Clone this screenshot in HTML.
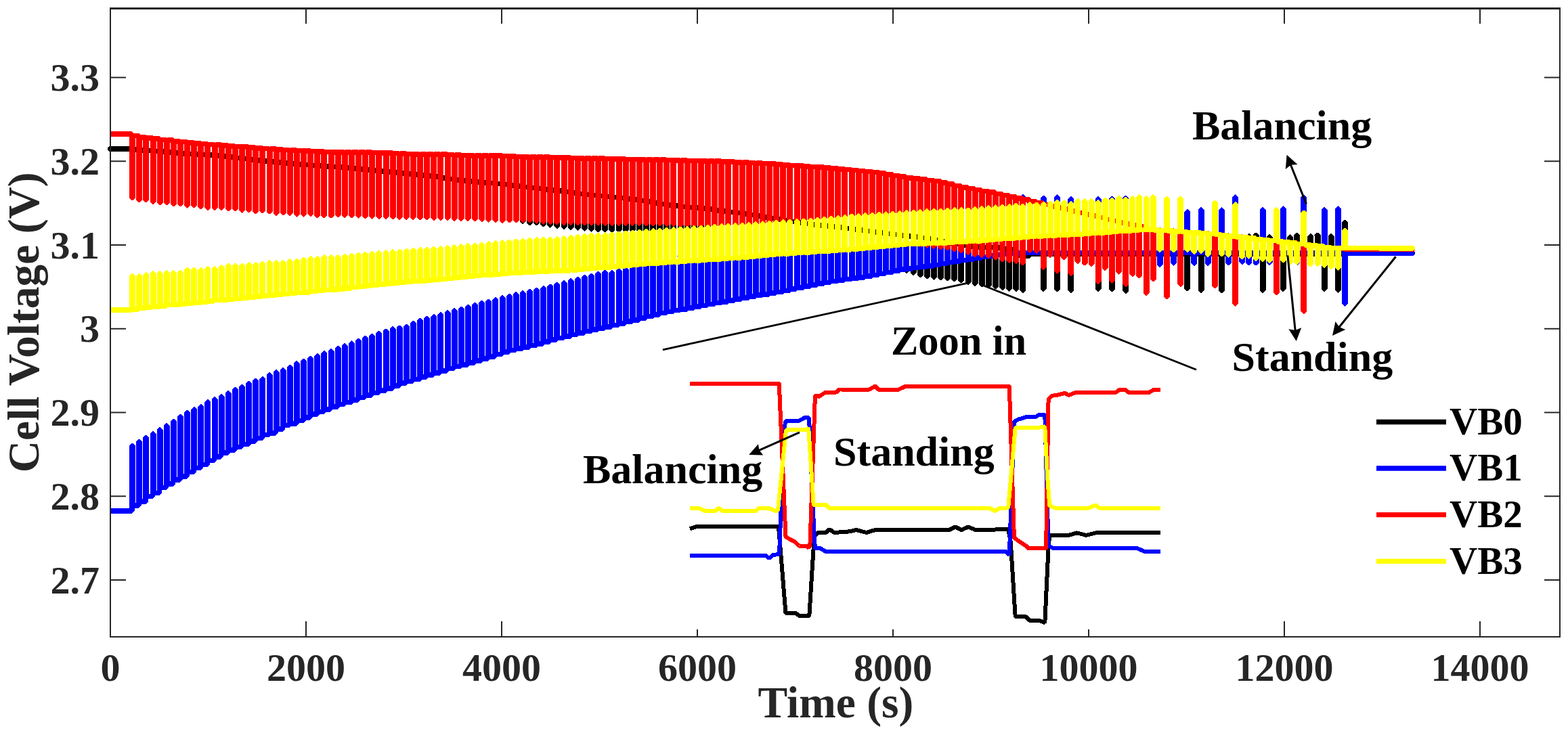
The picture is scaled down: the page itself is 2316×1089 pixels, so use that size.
<!DOCTYPE html><html><head><meta charset="utf-8"><title>Cell Voltage</title><style>html,body{margin:0;padding:0;background:#fff;overflow:hidden}svg{display:block}text{font-family:"Liberation Serif","Times New Roman",serif;font-weight:bold}</style></head><body>
<svg width="2316" height="1089" viewBox="0 0 2316 1089">
<rect width="2316" height="1089" fill="#fff"/>
<defs><clipPath id="ax"><rect x="163.0" y="12.0" width="2141.0" height="929.0"/></clipPath></defs>
<g fill="none" stroke-width="7.6" stroke-linejoin="bevel" stroke-linecap="round" shape-rendering="crispEdges">
<path d="M163.0 220.0 L194.9 220.0 L194.9 289.5 L196.3 289.5 L196.3 220.9 L205.0 220.9 L205.0 292.5 L206.4 292.5 L206.4 221.7 L215.1 221.7 L215.1 292.5 L216.5 292.5 L216.5 222.5 L225.3 222.5 L225.3 294.8 L226.7 294.8 L226.7 223.3 L235.4 223.3 L235.4 296.6 L236.8 296.6 L236.8 224.1 L245.5 224.1 L245.5 296.5 L246.9 296.5 L246.9 225.1 L255.6 225.1 L255.6 298.4 L257.0 298.4 L257.0 226.2 L265.7 226.2 L265.7 298.5 L267.1 298.5 L267.1 226.9 L275.8 226.9 L275.8 300.8 L277.2 300.8 L277.2 227.5 L286.0 227.5 L286.0 300.5 L287.4 300.5 L287.4 227.9 L296.1 227.9 L296.1 302.6 L297.5 302.6 L297.5 228.3 L306.2 228.3 L306.2 303.8 L307.6 303.8 L307.6 229.0 L316.3 229.0 L316.3 303.8 L317.7 303.8 L317.7 230.0 L326.4 230.0 L326.4 304.0 L327.8 304.0 L327.8 231.0 L336.6 231.0 L336.6 305.6 L338.0 305.6 L338.0 232.2 L346.7 232.2 L346.7 305.5 L348.1 305.5 L348.1 233.4 L356.8 233.4 L356.8 307.8 L358.2 307.8 L358.2 234.6 L366.9 234.6 L366.9 307.2 L368.3 307.2 L368.3 235.9 L377.0 235.9 L377.0 309.6 L378.4 309.6 L378.4 237.1 L387.1 237.1 L387.1 308.6 L388.5 308.6 L388.5 238.2 L397.3 238.2 L397.3 309.6 L398.7 309.6 L398.7 239.1 L407.4 239.1 L407.4 312.0 L408.8 312.0 L408.8 240.1 L417.5 240.1 L417.5 311.4 L418.9 311.4 L418.9 241.0 L427.6 241.0 L427.6 312.1 L429.0 312.1 L429.0 242.0 L437.7 242.0 L437.7 313.8 L439.1 313.8 L439.1 242.8 L447.9 242.8 L447.9 313.8 L449.2 313.8 L449.2 243.6 L458.0 243.6 L458.0 313.2 L459.4 313.2 L459.4 244.4 L468.1 244.4 L468.1 315.5 L469.5 315.5 L469.5 245.1 L478.2 245.1 L478.2 315.6 L479.6 315.6 L479.6 245.9 L488.3 245.9 L488.3 315.6 L489.7 315.6 L489.7 246.4 L498.4 246.4 L498.4 314.6 L499.8 314.6 L499.8 247.0 L508.6 247.0 L508.6 314.9 L510.0 314.9 L510.0 248.0 L518.7 248.0 L518.7 315.4 L520.1 315.4 L520.1 249.0 L528.8 249.0 L528.8 315.9 L530.2 315.9 L530.2 250.1 L538.9 250.1 L538.9 316.4 L540.3 316.4 L540.3 251.1 L549.0 251.1 L549.0 316.7 L550.4 316.7 L550.4 252.1 L559.1 252.1 L559.1 317.0 L560.5 317.0 L560.5 253.0 L569.3 253.0 L569.3 317.3 L570.7 317.3 L570.7 254.0 L579.4 254.0 L579.4 317.6 L580.8 317.6 L580.8 254.9 L589.5 254.9 L589.5 317.8 L590.9 317.8 L590.9 255.9 L599.6 255.9 L599.6 317.9 L601.0 317.9 L601.0 256.9 L609.7 256.9 L609.7 318.1 L611.1 318.1 L611.1 257.9 L619.9 257.9 L619.9 318.2 L621.3 318.2 L621.3 258.9 L630.0 258.9 L630.0 318.5 L631.4 318.5 L631.4 260.0 L640.1 260.0 L640.1 318.8 L641.5 318.8 L641.5 261.0 L650.2 261.0 L650.2 319.1 L651.6 319.1 L651.6 263.0 L660.3 263.0 L660.3 319.4 L661.7 319.4 L661.7 264.6 L670.4 264.6 L670.4 319.7 L671.8 319.7 L671.8 265.7 L680.6 265.7 L680.6 319.9 L682.0 319.9 L682.0 266.8 L690.7 266.8 L690.7 320.1 L692.1 320.1 L692.1 267.8 L700.8 267.8 L700.8 320.4 L702.2 320.4 L702.2 268.8 L710.9 268.8 L710.9 321.0 L712.3 321.0 L712.3 269.7 L721.0 269.7 L721.0 321.7 L722.4 321.7 L722.4 270.6 L731.2 270.6 L731.2 322.3 L732.6 322.3 L732.6 271.5 L741.3 271.5 L741.3 322.8 L742.7 322.8 L742.7 272.6 L751.4 272.6 L751.4 322.6 L752.8 322.6 L752.8 273.9 L761.5 273.9 L761.5 325.0 L762.9 325.0 L762.9 275.1 L771.6 275.1 L771.6 327.2 L773.0 327.2 L773.0 276.3 L781.7 276.3 L781.7 329.5 L783.1 329.5 L783.1 277.4 L791.9 277.4 L791.9 329.5 L793.3 329.5 L793.3 278.5 L802.0 278.5 L802.0 331.4 L803.4 331.4 L803.4 279.7 L812.1 279.7 L812.1 332.7 L813.5 332.7 L813.5 280.9 L822.2 280.9 L822.2 334.3 L823.6 334.3 L823.6 282.2 L832.3 282.2 L832.3 335.2 L833.7 335.2 L833.7 283.6 L842.5 283.6 L842.5 336.0 L843.9 336.0 L843.9 285.0 L852.6 285.0 L852.6 336.8 L854.0 336.8 L854.0 286.3 L862.7 286.3 L862.7 337.8 L864.1 337.8 L864.1 287.4 L872.8 287.4 L872.8 338.7 L874.2 338.7 L874.2 288.5 L882.9 288.5 L882.9 339.3 L884.3 339.3 L884.3 289.6 L893.0 289.6 L893.0 339.7 L894.4 339.7 L894.4 290.5 L903.2 290.5 L903.2 339.7 L904.6 339.7 L904.6 291.5 L913.3 291.5 L913.3 339.7 L914.7 339.7 L914.7 292.6 L923.4 292.6 L923.4 340.0 L924.8 340.0 L924.8 293.8 L933.5 293.8 L933.5 340.3 L934.9 340.3 L934.9 295.0 L943.6 295.0 L943.6 340.8 L945.0 340.8 L945.0 296.4 L953.8 296.4 L953.8 341.6 L955.2 341.6 L955.2 298.1 L963.9 298.1 L963.9 342.3 L965.3 342.3 L965.3 299.8 L974.0 299.8 L974.0 343.1 L975.4 343.1 L975.4 301.3 L984.1 301.3 L984.1 343.9 L985.5 343.9 L985.5 302.7 L994.2 302.7 L994.2 344.6 L995.6 344.6 L995.6 304.0 L1004.3 304.0 L1004.3 345.5 L1005.7 345.5 L1005.7 305.4 L1014.5 305.4 L1014.5 346.5 L1015.9 346.5 L1015.9 306.4 L1024.6 306.4 L1024.6 347.5 L1026.0 347.5 L1026.0 307.2 L1034.7 307.2 L1034.7 348.5 L1036.1 348.5 L1036.1 308.0 L1044.8 308.0 L1044.8 349.6 L1046.2 349.6 L1046.2 309.2 L1054.9 309.2 L1054.9 350.6 L1056.3 350.6 L1056.3 310.7 L1065.0 310.7 L1065.0 351.6 L1066.4 351.6 L1066.4 312.1 L1075.2 312.1 L1075.2 352.6 L1076.6 352.6 L1076.6 313.3 L1085.3 313.3 L1085.3 353.6 L1086.7 353.6 L1086.7 314.6 L1095.4 314.6 L1095.4 354.6 L1096.8 354.6 L1096.8 315.8 L1105.5 315.8 L1105.5 355.8 L1106.9 355.8 L1106.9 317.3 L1115.6 317.3 L1115.6 357.1 L1117.0 357.1 L1117.0 318.9 L1125.8 318.9 L1125.8 358.4 L1127.2 358.4 L1127.2 320.7 L1135.9 320.7 L1135.9 359.8 L1137.3 359.8 L1137.3 322.5 L1146.0 322.5 L1146.0 361.1 L1147.4 361.1 L1147.4 324.0 L1156.1 324.0 L1156.1 362.4 L1157.5 362.4 L1157.5 325.6 L1166.2 325.6 L1166.2 363.7 L1167.6 363.7 L1167.6 327.3 L1176.3 327.3 L1176.3 365.0 L1177.7 365.0 L1177.7 328.8 L1186.5 328.8 L1186.5 366.3 L1187.9 366.3 L1187.9 330.3 L1196.6 330.3 L1196.6 367.6 L1198.0 367.6 L1198.0 331.8 L1206.7 331.8 L1206.7 369.6 L1208.1 369.6 L1208.1 333.1 L1216.8 333.1 L1216.8 371.9 L1218.2 371.9 L1218.2 334.1 L1226.9 334.1 L1226.9 374.1 L1228.3 374.1 L1228.3 335.1 L1237.1 335.1 L1237.1 376.3 L1238.5 376.3 L1238.5 336.1 L1247.2 336.1 L1247.2 378.5 L1248.6 378.5 L1248.6 337.3 L1257.3 337.3 L1257.3 380.8 L1258.7 380.8 L1258.7 338.7 L1267.4 338.7 L1267.4 383.0 L1268.8 383.0 L1268.8 340.0 L1277.5 340.0 L1277.5 385.2 L1278.9 385.2 L1278.9 341.4 L1287.6 341.4 L1287.6 387.4 L1289.0 387.4 L1289.0 342.7 L1297.8 342.7 L1297.8 389.7 L1299.2 389.7 L1299.2 344.1 L1307.9 344.1 L1307.9 392.1 L1309.3 392.1 L1309.3 345.4 L1318.0 345.4 L1318.0 394.7 L1319.4 394.7 L1319.4 346.6 L1328.1 346.6 L1328.1 397.2 L1329.5 397.2 L1329.5 347.8 L1338.2 347.8 L1338.2 399.7 L1339.6 399.7 L1339.6 349.0 L1348.4 349.0 L1348.4 403.3 L1349.8 403.3 L1349.8 350.2 L1358.5 350.2 L1358.5 406.4 L1359.9 406.4 L1359.9 351.4 L1368.6 351.4 L1368.6 408.5 L1370.0 408.5 L1370.0 353.0 L1378.7 353.0 L1378.7 409.9 L1380.1 409.9 L1380.1 355.0 L1388.8 355.0 L1388.8 410.4 L1390.2 410.4 L1390.2 356.9 L1398.9 356.9 L1398.9 411.2 L1400.3 411.2 L1400.3 358.7 L1409.1 358.7 L1409.1 412.5 L1410.5 412.5 L1410.5 360.5 L1419.2 360.5 L1419.2 414.6 L1420.6 414.6 L1420.6 362.3 L1429.3 362.3 L1429.3 417.4 L1430.7 417.4 L1430.7 364.1 L1439.4 364.1 L1439.4 419.4 L1440.8 419.4 L1440.8 365.1 L1449.5 365.1 L1449.5 420.5 L1450.9 420.5 L1450.9 365.3 L1459.6 365.3 L1459.6 421.8 L1461.0 421.8 L1461.0 365.4 L1469.8 365.4 L1469.8 423.3 L1471.2 423.3 L1471.2 366.2 L1479.9 366.2 L1479.9 425.0 L1481.3 425.0 L1481.3 367.5 L1490.0 367.5 L1490.0 426.8 L1491.4 426.8 L1491.4 368.8 L1500.1 368.8 L1500.1 427.2 L1501.5 427.2 L1501.5 376.7 L1510.2 376.7 L1510.2 429.2 L1511.6 429.2 L1511.6 377.7 L1521.1 377.7 L1521.1 375.5 L1531.2 375.5 L1540.6 375.5 L1540.6 427.2 L1542.0 427.2 L1542.0 375.5 L1551.4 375.5 L1560.8 375.5 L1560.8 427.2 L1562.2 427.2 L1562.2 375.5 L1571.6 375.5 L1581.1 375.5 L1581.1 429.2 L1582.5 429.2 L1582.5 375.5 L1591.9 375.5 L1602.0 375.5 L1612.1 375.5 L1621.5 375.5 L1621.5 427.2 L1622.9 427.2 L1622.9 375.5 L1632.4 375.5 L1641.8 375.5 L1641.8 427.4 L1643.2 427.4 L1643.2 375.5 L1652.6 375.5 L1662.0 375.5 L1662.0 429.9 L1663.4 429.9 L1663.4 375.5 L1672.8 375.5 L1682.9 375.5 L1693.1 375.5 L1703.2 375.5 L1713.3 375.5 L1723.4 375.5 L1733.5 375.5 L1743.7 375.5 L1753.1 375.5 L1753.1 426.6 L1754.5 426.6 L1754.5 375.5 L1763.9 375.5 L1773.3 375.5 L1773.3 429.2 L1774.7 429.2 L1774.7 375.5 L1784.1 375.5 L1794.2 375.5 L1803.7 375.5 L1803.7 429.2 L1805.1 429.2 L1805.1 375.5 L1814.5 375.5 L1824.6 375.5 L1834.7 375.5 L1844.1 375.5 L1844.1 349.1 L1845.5 349.1 L1845.5 375.5 L1854.3 375.5 L1854.3 347.4 L1855.7 347.4 L1855.7 375.5 L1864.4 375.5 L1864.4 429.2 L1865.8 429.2 L1865.8 375.5 L1874.5 375.5 L1874.5 349.8 L1875.9 349.8 L1875.9 375.5 L1885.3 375.5 L1894.7 375.5 L1894.7 427.1 L1896.1 427.1 L1896.1 375.5 L1904.8 375.5 L1904.8 350.1 L1906.2 350.1 L1906.2 375.5 L1915.0 375.5 L1915.0 347.5 L1916.4 347.5 L1916.4 375.5 L1925.8 375.5 L1935.2 375.5 L1935.2 349.2 L1936.6 349.2 L1936.6 375.5 L1945.3 375.5 L1945.3 347.5 L1946.7 347.5 L1946.7 375.5 L1955.4 375.5 L1955.4 427.1 L1956.8 427.1 L1956.8 375.5 L1965.5 375.5 L1965.5 349.2 L1967.0 349.2 L1967.0 375.5 L1975.7 375.5 L1975.7 428.8 L1977.1 428.8 L1977.1 375.5 L1985.8 375.5 L1985.8 328.3 L1987.2 328.3 L1987.2 374.0 L1996.6 374.0 L2006.7 374.0 L2016.8 374.0 L2027.0 374.0 L2037.1 374.0 L2047.2 374.0 L2057.3 374.0 L2067.4 374.0 L2077.5 374.0 L2086.0 374.0" stroke="#000000"/>
<path d="M163.0 754.7 L194.9 754.7 L194.9 658.8 L196.3 658.8 L196.3 747.1 L205.0 747.1 L205.0 652.8 L206.4 652.8 L206.4 741.2 L215.1 741.2 L215.1 646.7 L216.5 646.7 L216.5 733.6 L225.3 733.6 L225.3 640.7 L226.7 640.7 L226.7 728.3 L235.4 728.3 L235.4 634.8 L236.8 634.8 L236.8 720.6 L245.5 720.6 L245.5 628.8 L246.9 628.8 L246.9 714.7 L255.6 714.7 L255.6 622.7 L257.0 622.7 L257.0 709.0 L265.7 709.0 L265.7 615.8 L267.1 615.8 L267.1 704.0 L275.8 704.0 L275.8 609.9 L277.2 609.9 L277.2 697.6 L286.0 697.6 L286.0 605.2 L287.4 605.2 L287.4 691.4 L296.1 691.4 L296.1 601.1 L297.5 601.1 L297.5 686.4 L306.2 686.4 L306.2 594.0 L307.6 594.0 L307.6 680.6 L316.3 680.6 L316.3 590.2 L317.7 590.2 L317.7 674.7 L326.4 674.7 L326.4 586.0 L327.8 586.0 L327.8 669.2 L336.6 669.2 L336.6 581.0 L338.0 581.0 L338.0 665.2 L346.7 665.2 L346.7 575.4 L348.1 575.4 L348.1 660.3 L356.8 660.3 L356.8 572.0 L358.2 572.0 L358.2 656.6 L366.9 656.6 L366.9 566.7 L368.3 566.7 L368.3 651.7 L377.0 651.7 L377.0 562.5 L378.4 562.5 L378.4 647.5 L387.1 647.5 L387.1 560.0 L388.5 560.0 L388.5 642.5 L397.3 642.5 L397.3 554.2 L398.7 554.2 L398.7 639.7 L407.4 639.7 L407.4 549.9 L408.8 549.9 L408.8 634.1 L417.5 634.1 L417.5 547.1 L418.9 547.1 L418.9 628.6 L427.6 628.6 L427.6 542.4 L429.0 542.4 L429.0 626.0 L437.7 626.0 L437.7 537.0 L439.1 537.0 L439.1 621.5 L447.9 621.5 L447.9 533.5 L449.2 533.5 L449.2 616.9 L458.0 616.9 L458.0 529.8 L459.4 529.8 L459.4 612.2 L468.1 612.2 L468.1 526.1 L469.5 526.1 L469.5 608.5 L478.2 608.5 L478.2 522.0 L479.6 522.0 L479.6 604.8 L488.3 604.8 L488.3 519.1 L489.7 519.1 L489.7 601.0 L498.4 601.0 L498.4 514.6 L499.8 514.6 L499.8 597.3 L508.6 597.3 L508.6 510.9 L510.0 510.9 L510.0 594.6 L518.7 594.6 L518.7 507.2 L520.1 507.2 L520.1 590.9 L528.8 590.9 L528.8 503.5 L530.2 503.5 L530.2 587.3 L538.9 587.3 L538.9 499.9 L540.3 499.9 L540.3 583.7 L549.0 583.7 L549.0 496.3 L550.4 496.3 L550.4 580.4 L559.1 580.4 L559.1 492.7 L560.5 492.7 L560.5 577.2 L569.3 577.2 L569.3 489.4 L570.7 489.4 L570.7 574.0 L579.4 574.0 L579.4 486.2 L580.8 486.2 L580.8 570.0 L589.5 570.0 L589.5 484.3 L590.9 484.3 L590.9 566.2 L599.6 566.2 L599.6 482.3 L601.0 482.3 L601.0 563.5 L609.7 563.5 L609.7 477.7 L611.1 477.7 L611.1 560.6 L619.9 560.6 L619.9 473.3 L621.3 473.3 L621.3 557.2 L630.0 557.2 L630.0 470.6 L631.4 470.6 L631.4 553.9 L640.1 553.9 L640.1 468.0 L641.5 468.0 L641.5 550.9 L650.2 550.9 L650.2 465.0 L651.6 465.0 L651.6 547.7 L660.3 547.7 L660.3 462.1 L661.7 462.1 L661.7 544.5 L670.4 544.5 L670.4 459.2 L671.8 459.2 L671.8 541.5 L680.6 541.5 L680.6 456.3 L682.0 456.3 L682.0 538.7 L690.7 538.7 L690.7 453.4 L692.1 453.4 L692.1 536.0 L700.8 536.0 L700.8 450.5 L702.2 450.5 L702.2 533.2 L710.9 533.2 L710.9 447.9 L712.3 447.9 L712.3 530.1 L721.0 530.1 L721.0 445.3 L722.4 445.3 L722.4 526.8 L731.2 526.8 L731.2 442.7 L732.6 442.7 L732.6 523.5 L741.3 523.5 L741.3 440.2 L742.7 440.2 L742.7 520.2 L751.4 520.2 L751.4 437.6 L752.8 437.6 L752.8 517.3 L761.5 517.3 L761.5 435.2 L762.9 435.2 L762.9 515.1 L771.6 515.1 L771.6 433.0 L773.0 433.0 L773.0 512.9 L781.7 512.9 L781.7 430.8 L783.1 430.8 L783.1 510.6 L791.9 510.6 L791.9 428.5 L793.3 428.5 L793.3 508.2 L802.0 508.2 L802.0 426.1 L803.4 426.1 L803.4 505.0 L812.1 505.0 L812.1 423.3 L813.5 423.3 L813.5 502.0 L822.2 502.0 L822.2 420.5 L823.6 420.5 L823.6 499.4 L832.3 499.4 L832.3 417.6 L833.7 417.6 L833.7 496.9 L842.5 496.9 L842.5 414.8 L843.9 414.8 L843.9 494.3 L852.6 494.3 L852.6 412.3 L854.0 412.3 L854.0 491.8 L862.7 491.8 L862.7 409.8 L864.1 409.8 L864.1 489.5 L872.8 489.5 L872.8 407.3 L874.2 407.3 L874.2 487.2 L882.9 487.2 L882.9 404.8 L884.3 404.8 L884.3 485.0 L893.0 485.0 L893.0 402.8 L894.4 402.8 L894.4 482.7 L903.2 482.7 L903.2 402.7 L904.6 402.7 L904.6 480.3 L913.3 480.3 L913.3 400.3 L914.7 400.3 L914.7 477.7 L923.4 477.7 L923.4 397.7 L924.8 397.7 L924.8 475.2 L933.5 475.2 L933.5 395.2 L934.9 395.2 L934.9 472.7 L943.6 472.7 L943.6 392.7 L945.0 392.7 L945.0 470.1 L953.8 470.1 L953.8 390.1 L955.2 390.1 L955.2 467.6 L963.9 467.6 L963.9 387.6 L965.3 387.6 L965.3 465.1 L974.0 465.1 L974.0 385.1 L975.4 385.1 L975.4 462.5 L984.1 462.5 L984.1 382.5 L985.5 382.5 L985.5 460.3 L994.2 460.3 L994.2 380.3 L995.6 380.3 L995.6 458.5 L1004.3 458.5 L1004.3 378.5 L1005.7 378.5 L1005.7 456.7 L1014.5 456.7 L1014.5 376.7 L1015.9 376.7 L1015.9 455.0 L1024.6 455.0 L1024.6 375.0 L1026.0 375.0 L1026.0 453.2 L1034.7 453.2 L1034.7 373.2 L1036.1 373.2 L1036.1 451.3 L1044.8 451.3 L1044.8 371.3 L1046.2 371.3 L1046.2 449.4 L1054.9 449.4 L1054.9 369.4 L1056.3 369.4 L1056.3 447.5 L1065.0 447.5 L1065.0 367.5 L1066.4 367.5 L1066.4 445.7 L1075.2 445.7 L1075.2 365.7 L1076.6 365.7 L1076.6 443.7 L1085.3 443.7 L1085.3 363.7 L1086.7 363.7 L1086.7 441.8 L1095.4 441.8 L1095.4 361.8 L1096.8 361.8 L1096.8 439.8 L1105.5 439.8 L1105.5 359.8 L1106.9 359.8 L1106.9 437.8 L1115.6 437.8 L1115.6 357.8 L1117.0 357.8 L1117.0 436.2 L1125.8 436.2 L1125.8 356.2 L1127.2 356.2 L1127.2 434.9 L1135.9 434.9 L1135.9 354.9 L1137.3 354.9 L1137.3 433.2 L1146.0 433.2 L1146.0 353.2 L1147.4 353.2 L1147.4 431.5 L1156.1 431.5 L1156.1 351.5 L1157.5 351.5 L1157.5 429.3 L1166.2 429.3 L1166.2 349.3 L1167.6 349.3 L1167.6 426.9 L1176.3 426.9 L1176.3 346.9 L1177.7 346.9 L1177.7 424.8 L1186.5 424.8 L1186.5 344.8 L1187.9 344.8 L1187.9 422.8 L1196.6 422.8 L1196.6 342.8 L1198.0 342.8 L1198.0 421.0 L1206.7 421.0 L1206.7 341.0 L1208.1 341.0 L1208.1 419.2 L1216.8 419.2 L1216.8 339.2 L1218.2 339.2 L1218.2 417.3 L1226.9 417.3 L1226.9 337.3 L1228.3 337.3 L1228.3 415.4 L1237.1 415.4 L1237.1 335.4 L1238.5 335.4 L1238.5 413.8 L1247.2 413.8 L1247.2 333.8 L1248.6 333.8 L1248.6 412.3 L1257.3 412.3 L1257.3 332.3 L1258.7 332.3 L1258.7 411.0 L1267.4 411.0 L1267.4 331.0 L1268.8 331.0 L1268.8 409.7 L1277.5 409.7 L1277.5 329.7 L1278.9 329.7 L1278.9 408.0 L1287.6 408.0 L1287.6 328.0 L1289.0 328.0 L1289.0 406.3 L1297.8 406.3 L1297.8 326.3 L1299.2 326.3 L1299.2 404.3 L1307.9 404.3 L1307.9 324.3 L1309.3 324.3 L1309.3 402.3 L1318.0 402.3 L1318.0 322.3 L1319.4 322.3 L1319.4 400.2 L1328.1 400.2 L1328.1 320.2 L1329.5 320.2 L1329.5 398.2 L1338.2 398.2 L1338.2 318.2 L1339.6 318.2 L1339.6 396.8 L1348.4 396.8 L1348.4 316.8 L1349.8 316.8 L1349.8 395.4 L1358.5 395.4 L1358.5 315.4 L1359.9 315.4 L1359.9 394.1 L1368.6 394.1 L1368.6 314.1 L1370.0 314.1 L1370.0 392.7 L1378.7 392.7 L1378.7 313.9 L1380.1 313.9 L1380.1 391.4 L1388.8 391.4 L1388.8 313.7 L1390.2 313.7 L1390.2 389.5 L1398.9 389.5 L1398.9 312.8 L1400.3 312.8 L1400.3 387.6 L1409.1 387.6 L1409.1 311.8 L1410.5 311.8 L1410.5 386.0 L1419.2 386.0 L1419.2 312.0 L1420.6 312.0 L1420.6 384.4 L1429.3 384.4 L1429.3 312.3 L1430.7 312.3 L1430.7 382.7 L1439.4 382.7 L1439.4 311.1 L1440.8 311.1 L1440.8 381.0 L1449.5 381.0 L1449.5 310.0 L1450.9 310.0 L1450.9 379.4 L1459.6 379.4 L1459.6 309.0 L1461.0 309.0 L1461.0 377.9 L1469.8 377.9 L1469.8 308.1 L1471.2 308.1 L1471.2 376.4 L1479.9 376.4 L1479.9 307.6 L1481.3 307.6 L1481.3 375.0 L1490.0 375.0 L1490.0 307.2 L1491.4 307.2 L1491.4 374.5 L1500.1 374.5 L1500.1 293.0 L1501.5 293.0 L1501.5 374.0 L1510.2 374.0 L1510.2 290.8 L1511.6 290.8 L1511.6 373.5 L1521.1 373.5 L1531.2 373.5 L1540.6 373.5 L1540.6 292.8 L1542.0 292.8 L1542.0 373.5 L1551.4 373.5 L1560.8 373.5 L1560.8 291.2 L1562.2 291.2 L1562.2 373.5 L1571.6 373.5 L1581.1 373.5 L1581.1 293.8 L1582.5 293.8 L1582.5 373.5 L1591.9 373.5 L1602.0 373.5 L1612.1 373.5 L1621.5 373.5 L1621.5 293.8 L1622.9 293.8 L1622.9 373.5 L1632.4 373.5 L1641.8 373.5 L1641.8 293.8 L1643.2 293.8 L1643.2 373.5 L1652.6 373.5 L1662.0 373.5 L1662.0 292.8 L1663.4 292.8 L1663.4 373.5 L1672.8 373.5 L1682.9 373.5 L1693.1 373.5 L1703.2 373.5 L1712.6 373.5 L1712.6 391.0 L1714.0 391.0 L1714.0 373.5 L1723.4 373.5 L1732.8 373.5 L1732.8 388.9 L1734.2 388.9 L1734.2 373.5 L1743.7 373.5 L1753.1 373.5 L1753.1 312.8 L1754.5 312.8 L1754.5 373.5 L1763.2 373.5 L1763.2 388.9 L1764.6 388.9 L1764.6 373.5 L1773.3 373.5 L1773.3 310.2 L1774.7 310.2 L1774.7 373.5 L1783.4 373.5 L1783.4 388.9 L1784.8 388.9 L1784.8 373.5 L1794.2 373.5 L1803.7 373.5 L1803.7 310.2 L1805.1 310.2 L1805.1 373.5 L1813.8 373.5 L1813.8 388.6 L1815.2 388.6 L1815.2 373.5 L1823.9 373.5 L1823.9 291.2 L1825.3 291.2 L1825.3 373.5 L1834.0 373.5 L1834.0 386.9 L1835.4 386.9 L1835.4 373.5 L1844.1 373.5 L1844.1 388.6 L1845.5 388.6 L1845.5 373.5 L1854.3 373.5 L1854.3 388.6 L1855.7 388.6 L1855.7 373.5 L1864.4 373.5 L1864.4 310.2 L1865.8 310.2 L1865.8 373.5 L1874.5 373.5 L1874.5 388.2 L1875.9 388.2 L1875.9 373.5 L1885.3 373.5 L1894.7 373.5 L1894.7 308.2 L1896.1 308.2 L1896.1 373.5 L1904.8 373.5 L1904.8 388.0 L1906.2 388.0 L1906.2 373.5 L1915.0 373.5 L1915.0 388.0 L1916.4 388.0 L1916.4 373.5 L1925.1 373.5 L1925.1 291.6 L1926.5 291.6 L1926.5 373.5 L1935.2 373.5 L1935.2 388.0 L1936.6 388.0 L1936.6 373.5 L1945.3 373.5 L1945.3 388.0 L1946.7 388.0 L1946.7 373.5 L1955.4 373.5 L1955.4 310.0 L1956.8 310.0 L1956.8 373.5 L1965.5 373.5 L1965.5 388.0 L1967.0 388.0 L1967.0 373.5 L1975.7 373.5 L1975.7 308.2 L1977.1 308.2 L1977.1 373.5 L1985.8 373.5 L1985.8 448.9 L1987.2 448.9 L1987.2 374.0 L1996.6 374.0 L1996.6 374.3 L2006.7 374.3 L2016.8 374.3 L2027.0 374.3 L2037.1 374.3 L2047.2 374.3 L2057.3 374.3 L2067.4 374.3 L2077.5 374.3 L2086.0 374.3" stroke="#0000ff" clip-path="url(#ax)"/>
<path d="M163.0 198.0 L194.9 198.0 L194.9 292.5 L196.3 292.5 L196.3 200.6 L205.0 200.6 L205.0 295.5 L206.4 295.5 L206.4 202.9 L215.1 202.9 L215.1 295.5 L216.5 295.5 L216.5 204.0 L225.3 204.0 L225.3 297.8 L226.7 297.8 L226.7 205.2 L235.4 205.2 L235.4 299.6 L236.8 299.6 L236.8 206.4 L245.5 206.4 L245.5 299.5 L246.9 299.5 L246.9 207.1 L255.6 207.1 L255.6 301.4 L257.0 301.4 L257.0 208.8 L265.7 208.8 L265.7 301.5 L267.1 301.5 L267.1 209.5 L275.8 209.5 L275.8 303.8 L277.2 303.8 L277.2 210.7 L286.0 210.7 L286.0 303.5 L287.4 303.5 L287.4 211.8 L296.1 211.8 L296.1 305.6 L297.5 305.6 L297.5 212.5 L306.2 212.5 L306.2 306.8 L307.6 306.8 L307.6 213.6 L316.3 213.6 L316.3 306.8 L317.7 306.8 L317.7 214.2 L326.4 214.2 L326.4 307.0 L327.8 307.0 L327.8 214.9 L336.6 214.9 L336.6 308.6 L338.0 308.6 L338.0 215.7 L346.7 215.7 L346.7 308.5 L348.1 308.5 L348.1 216.4 L356.8 216.4 L356.8 310.8 L358.2 310.8 L358.2 217.2 L366.9 217.2 L366.9 310.2 L368.3 310.2 L368.3 217.9 L377.0 217.9 L377.0 312.6 L378.4 312.6 L378.4 218.7 L387.1 218.7 L387.1 311.6 L388.5 311.6 L388.5 219.4 L397.3 219.4 L397.3 312.6 L398.7 312.6 L398.7 220.2 L407.4 220.2 L407.4 315.0 L408.8 315.0 L408.8 221.0 L417.5 221.0 L417.5 314.4 L418.9 314.4 L418.9 221.5 L427.6 221.5 L427.6 315.1 L429.0 315.1 L429.0 221.9 L437.7 221.9 L437.7 316.8 L439.1 316.8 L439.1 222.4 L447.9 222.4 L447.9 316.8 L449.2 316.8 L449.2 222.8 L458.0 222.8 L458.0 316.2 L459.4 316.2 L459.4 223.3 L468.1 223.3 L468.1 318.5 L469.5 318.5 L469.5 223.8 L478.2 223.8 L478.2 318.6 L479.6 318.6 L479.6 224.4 L488.3 224.4 L488.3 318.6 L489.7 318.6 L489.7 224.9 L498.4 224.9 L498.4 317.6 L499.8 317.6 L499.8 224.9 L508.6 224.9 L508.6 317.9 L510.0 317.9 L510.0 224.9 L518.7 224.9 L518.7 318.4 L520.1 318.4 L520.1 224.9 L528.8 224.9 L528.8 318.9 L530.2 318.9 L530.2 224.9 L538.9 224.9 L538.9 319.4 L540.3 319.4 L540.3 225.2 L549.0 225.2 L549.0 319.7 L550.4 319.7 L550.4 225.5 L559.1 225.5 L559.1 320.0 L560.5 320.0 L560.5 225.8 L569.3 225.8 L569.3 320.3 L570.7 320.3 L570.7 226.1 L579.4 226.1 L579.4 320.6 L580.8 320.6 L580.8 226.6 L589.5 226.6 L589.5 320.8 L590.9 320.8 L590.9 227.0 L599.6 227.0 L599.6 320.9 L601.0 320.9 L601.0 227.5 L609.7 227.5 L609.7 321.1 L611.1 321.1 L611.1 227.9 L619.9 227.9 L619.9 321.2 L621.3 321.2 L621.3 228.0 L630.0 228.0 L630.0 321.5 L631.4 321.5 L631.4 228.0 L640.1 228.0 L640.1 321.8 L641.5 321.8 L641.5 228.1 L650.2 228.1 L650.2 322.1 L651.6 322.1 L651.6 228.1 L660.3 228.1 L660.3 322.4 L661.7 322.4 L661.7 228.6 L670.4 228.6 L670.4 322.7 L671.8 322.7 L671.8 229.1 L680.6 229.1 L680.6 322.9 L682.0 322.9 L682.0 229.5 L690.7 229.5 L690.7 323.1 L692.1 323.1 L692.1 229.9 L700.8 229.9 L700.8 323.4 L702.2 323.4 L702.2 229.9 L710.9 229.9 L710.9 324.0 L712.3 324.0 L712.3 229.9 L721.0 229.9 L721.0 324.7 L722.4 324.7 L722.4 229.9 L731.2 229.9 L731.2 325.3 L732.6 325.3 L732.6 230.0 L741.3 230.0 L741.3 325.8 L742.7 325.8 L742.7 230.5 L751.4 230.5 L751.4 325.6 L752.8 325.6 L752.8 231.0 L761.5 231.0 L761.5 325.5 L762.9 325.5 L762.9 231.4 L771.6 231.4 L771.6 325.3 L773.0 325.3 L773.0 231.8 L781.7 231.8 L781.7 325.5 L783.1 325.5 L783.1 232.0 L791.9 232.0 L791.9 326.8 L793.3 326.8 L793.3 232.1 L802.0 232.1 L802.0 327.8 L803.4 327.8 L803.4 232.2 L812.1 232.2 L812.1 328.2 L813.5 328.2 L813.5 232.4 L822.2 232.4 L822.2 328.6 L823.6 328.6 L823.6 232.7 L832.3 232.7 L832.3 328.8 L833.7 328.8 L833.7 233.1 L842.5 233.1 L842.5 329.1 L843.9 329.1 L843.9 233.4 L852.6 233.4 L852.6 329.3 L854.0 329.3 L854.0 233.7 L862.7 233.7 L862.7 329.6 L864.1 329.6 L864.1 233.8 L872.8 233.8 L872.8 329.7 L874.2 329.7 L874.2 234.0 L882.9 234.0 L882.9 329.9 L884.3 329.9 L884.3 234.1 L893.0 234.1 L893.0 330.0 L894.4 330.0 L894.4 234.3 L903.2 234.3 L903.2 330.1 L904.6 330.1 L904.6 234.7 L913.3 234.7 L913.3 330.1 L914.7 330.1 L914.7 235.0 L923.4 235.0 L923.4 330.1 L924.8 330.1 L924.8 235.3 L933.5 235.3 L933.5 330.1 L934.9 330.1 L934.9 235.6 L943.6 235.6 L943.6 330.2 L945.0 330.2 L945.0 235.7 L953.8 235.7 L953.8 330.3 L955.2 330.3 L955.2 235.9 L963.9 235.9 L963.9 330.5 L965.3 330.5 L965.3 236.0 L974.0 236.0 L974.0 330.6 L975.4 330.6 L975.4 236.2 L984.1 236.2 L984.1 330.9 L985.5 330.9 L985.5 236.5 L994.2 236.5 L994.2 331.4 L995.6 331.4 L995.6 236.9 L1004.3 236.9 L1004.3 331.8 L1005.7 331.8 L1005.7 237.2 L1014.5 237.2 L1014.5 332.3 L1015.9 332.3 L1015.9 237.4 L1024.6 237.4 L1024.6 332.7 L1026.0 332.7 L1026.0 237.5 L1034.7 237.5 L1034.7 333.1 L1036.1 333.1 L1036.1 237.7 L1044.8 237.7 L1044.8 333.6 L1046.2 333.6 L1046.2 237.8 L1054.9 237.8 L1054.9 334.0 L1056.3 334.0 L1056.3 238.2 L1065.0 238.2 L1065.0 334.5 L1066.4 334.5 L1066.4 238.7 L1075.2 238.7 L1075.2 334.9 L1076.6 334.9 L1076.6 239.2 L1085.3 239.2 L1085.3 335.4 L1086.7 335.4 L1086.7 239.7 L1095.4 239.7 L1095.4 335.8 L1096.8 335.8 L1096.8 240.1 L1105.5 240.1 L1105.5 336.6 L1106.9 336.6 L1106.9 240.6 L1115.6 240.6 L1115.6 337.5 L1117.0 337.5 L1117.0 241.0 L1125.8 241.0 L1125.8 338.4 L1127.2 338.4 L1127.2 241.4 L1135.9 241.4 L1135.9 339.3 L1137.3 339.3 L1137.3 242.2 L1146.0 242.2 L1146.0 340.2 L1147.4 340.2 L1147.4 243.2 L1156.1 243.2 L1156.1 341.1 L1157.5 341.1 L1157.5 243.8 L1166.2 243.8 L1166.2 342.0 L1167.6 342.0 L1167.6 244.4 L1176.3 244.4 L1176.3 342.9 L1177.7 342.9 L1177.7 245.0 L1186.5 245.0 L1186.5 343.8 L1187.9 343.8 L1187.9 245.8 L1196.6 245.8 L1196.6 344.8 L1198.0 344.8 L1198.0 246.4 L1206.7 246.4 L1206.7 345.7 L1208.1 345.7 L1208.1 246.9 L1216.8 246.9 L1216.8 346.8 L1218.2 346.8 L1218.2 247.8 L1226.9 247.8 L1226.9 347.8 L1228.3 347.8 L1228.3 248.9 L1237.1 248.9 L1237.1 348.8 L1238.5 348.8 L1238.5 249.7 L1247.2 249.7 L1247.2 349.8 L1248.6 349.8 L1248.6 250.4 L1257.3 250.4 L1257.3 350.8 L1258.7 350.8 L1258.7 251.4 L1267.4 251.4 L1267.4 351.8 L1268.8 351.8 L1268.8 252.4 L1277.5 252.4 L1277.5 352.8 L1278.9 352.8 L1278.9 253.4 L1287.6 253.4 L1287.6 353.8 L1289.0 353.8 L1289.0 254.4 L1297.8 254.4 L1297.8 354.8 L1299.2 354.8 L1299.2 256.0 L1307.9 256.0 L1307.9 356.0 L1309.3 356.0 L1309.3 257.7 L1318.0 257.7 L1318.0 357.1 L1319.4 357.1 L1319.4 259.4 L1328.1 259.4 L1328.1 358.2 L1329.5 358.2 L1329.5 261.1 L1338.2 261.1 L1338.2 359.3 L1339.6 359.3 L1339.6 262.8 L1348.4 262.8 L1348.4 360.5 L1349.8 360.5 L1349.8 264.1 L1358.5 264.1 L1358.5 361.6 L1359.9 361.6 L1359.9 265.2 L1368.6 265.2 L1368.6 362.7 L1370.0 362.7 L1370.0 266.4 L1378.7 266.4 L1378.7 364.0 L1380.1 364.0 L1380.1 267.5 L1388.8 267.5 L1388.8 365.2 L1390.2 365.2 L1390.2 269.8 L1398.9 269.8 L1398.9 366.5 L1400.3 366.5 L1400.3 272.1 L1409.1 272.1 L1409.1 368.5 L1410.5 368.5 L1410.5 274.5 L1419.2 274.5 L1419.2 370.6 L1420.6 370.6 L1420.6 276.8 L1429.3 276.8 L1429.3 373.1 L1430.7 373.1 L1430.7 278.6 L1439.4 278.6 L1439.4 375.7 L1440.8 375.7 L1440.8 280.4 L1449.5 280.4 L1449.5 376.9 L1450.9 376.9 L1450.9 282.3 L1459.6 282.3 L1459.6 378.1 L1461.0 378.1 L1461.0 284.2 L1469.8 284.2 L1469.8 380.9 L1471.2 380.9 L1471.2 286.3 L1479.9 286.3 L1479.9 383.6 L1481.3 383.6 L1481.3 288.4 L1490.0 288.4 L1490.0 384.9 L1491.4 384.9 L1491.4 290.7 L1500.1 290.7 L1500.1 386.2 L1501.5 386.2 L1501.5 293.0 L1510.2 293.0 L1510.2 388.6 L1511.6 388.6 L1511.6 295.0 L1520.4 295.0 L1520.4 370.2 L1521.8 370.2 L1521.8 297.4 L1530.5 297.4 L1530.5 371.2 L1531.9 371.2 L1531.9 299.8 L1540.6 299.8 L1540.6 395.2 L1542.0 395.2 L1542.0 302.4 L1550.7 302.4 L1550.7 377.0 L1552.1 377.0 L1552.1 304.9 L1560.8 304.9 L1560.8 401.0 L1562.2 401.0 L1562.2 307.1 L1570.9 307.1 L1570.9 380.3 L1572.3 380.3 L1572.3 309.2 L1581.1 309.2 L1581.1 404.2 L1582.5 404.2 L1582.5 311.7 L1591.2 311.7 L1591.2 386.2 L1592.6 386.2 L1592.6 314.6 L1601.3 314.6 L1601.3 388.6 L1602.7 388.6 L1602.7 317.0 L1611.4 317.0 L1611.4 390.2 L1612.8 390.2 L1612.8 319.0 L1621.5 319.0 L1621.5 415.9 L1622.9 415.9 L1622.9 321.6 L1631.7 321.6 L1631.7 396.0 L1633.1 396.0 L1633.1 324.3 L1641.8 324.3 L1641.8 415.0 L1643.2 415.0 L1643.2 326.6 L1651.9 326.6 L1651.9 401.8 L1653.3 401.8 L1653.3 329.0 L1662.0 329.0 L1662.0 420.0 L1663.4 420.0 L1663.4 331.1 L1672.1 331.1 L1672.1 405.2 L1673.5 405.2 L1673.5 332.9 L1682.2 332.9 L1682.2 407.6 L1683.6 407.6 L1683.6 334.8 L1692.4 334.8 L1692.4 433.2 L1693.8 433.2 L1693.8 339.2 L1702.5 339.2 L1702.5 412.6 L1703.9 412.6 L1703.9 339.9 L1713.3 339.9 L1713.3 340.6 L1722.7 340.6 L1722.7 438.2 L1724.1 438.2 L1724.1 341.2 L1733.5 341.2 L1733.5 341.9 L1743.0 341.9 L1743.0 420.0 L1744.4 420.0 L1744.4 342.6 L1753.8 342.6 L1753.8 343.3 L1763.9 343.3 L1763.9 343.9 L1774.0 343.9 L1774.0 344.6 L1784.1 344.6 L1784.1 345.5 L1793.5 345.5 L1793.5 422.5 L1794.9 422.5 L1794.9 346.6 L1804.4 346.6 L1804.4 347.7 L1814.5 347.7 L1814.5 348.8 L1823.9 348.8 L1823.9 448.9 L1825.3 448.9 L1825.3 349.9 L1834.7 349.9 L1834.7 351.0 L1844.8 351.0 L1844.8 352.1 L1855.0 352.1 L1855.0 353.3 L1865.1 353.3 L1865.1 354.4 L1875.2 354.4 L1875.2 355.5 L1884.6 355.5 L1884.6 432.4 L1886.0 432.4 L1886.0 356.7 L1895.4 356.7 L1895.4 357.9 L1905.5 357.9 L1905.5 359.2 L1915.7 359.2 L1915.7 360.4 L1925.1 360.4 L1925.1 460.2 L1926.5 460.2 L1926.5 361.7 L1935.9 361.7 L1935.9 362.9 L1946.0 362.9 L1946.0 364.2 L1956.1 364.2 L1956.1 365.4 L1966.2 365.4 L1966.2 366.5 L1976.4 366.5 L1976.4 366.8 L1986.5 366.8 L1986.5 368.5 L1996.6 368.5 L2006.7 368.5 L2016.8 368.5 L2027.0 368.5 L2037.1 368.5 L2047.2 368.5 L2057.3 368.5 L2067.4 368.5 L2077.5 368.5 L2086.0 368.5" stroke="#ff0000" clip-path="url(#ax)"/>
<path d="M163.0 457.9 L194.9 457.9 L194.9 407.8 L196.3 407.8 L196.3 456.9 L205.0 456.9 L205.0 408.0 L206.4 408.0 L206.4 454.9 L215.1 454.9 L215.1 405.8 L216.5 405.8 L216.5 453.9 L225.3 453.9 L225.3 403.9 L226.7 403.9 L226.7 452.9 L235.4 452.9 L235.4 403.9 L236.8 403.9 L236.8 452.1 L245.5 452.1 L245.5 403.0 L246.9 403.0 L246.9 450.3 L255.6 450.3 L255.6 403.0 L257.0 403.0 L257.0 449.8 L265.7 449.8 L265.7 402.8 L267.1 402.8 L267.1 448.8 L275.8 448.8 L275.8 398.8 L277.2 398.8 L277.2 447.7 L286.0 447.7 L286.0 398.8 L287.4 398.8 L287.4 447.4 L296.1 447.4 L296.1 398.8 L297.5 398.8 L297.5 446.5 L306.2 446.5 L306.2 396.9 L307.6 396.9 L307.6 444.9 L316.3 444.9 L316.3 396.9 L317.7 396.9 L317.7 443.5 L326.4 443.5 L326.4 394.9 L327.8 394.9 L327.8 442.7 L336.6 442.7 L336.6 392.5 L338.0 392.5 L338.0 442.3 L346.7 442.3 L346.7 392.6 L348.1 392.6 L348.1 441.4 L356.8 441.4 L356.8 392.6 L358.2 392.6 L358.2 440.2 L366.9 440.2 L366.9 391.0 L368.3 391.0 L368.3 438.9 L377.0 438.9 L377.0 390.9 L378.4 390.9 L378.4 437.8 L387.1 437.8 L387.1 389.6 L388.5 389.6 L388.5 436.8 L397.3 436.8 L397.3 387.9 L398.7 387.9 L398.7 436.0 L407.4 436.0 L407.4 387.9 L408.8 387.9 L408.8 435.2 L417.5 435.2 L417.5 387.9 L418.9 387.9 L418.9 434.3 L427.6 434.3 L427.6 385.9 L429.0 385.9 L429.0 433.3 L437.7 433.3 L437.7 385.8 L439.1 385.8 L439.1 432.5 L447.9 432.5 L447.9 383.9 L449.2 383.9 L449.2 431.7 L458.0 431.7 L458.0 381.9 L459.4 381.9 L459.4 430.5 L468.1 430.5 L468.1 381.8 L469.5 381.8 L469.5 429.1 L478.2 429.1 L478.2 379.9 L479.6 379.9 L479.6 428.5 L488.3 428.5 L488.3 379.9 L489.7 379.9 L489.7 428.0 L498.4 428.0 L498.4 379.9 L499.8 379.9 L499.8 426.9 L508.6 426.9 L508.6 378.8 L510.0 378.8 L510.0 425.7 L518.7 425.7 L518.7 377.7 L520.1 377.7 L520.1 424.5 L528.8 424.5 L528.8 376.7 L530.2 376.7 L530.2 423.4 L538.9 423.4 L538.9 375.6 L540.3 375.6 L540.3 422.2 L549.0 422.2 L549.0 374.5 L550.4 374.5 L550.4 421.1 L559.1 421.1 L559.1 373.7 L560.5 373.7 L560.5 420.1 L569.3 420.1 L569.3 372.9 L570.7 372.9 L570.7 419.0 L579.4 419.0 L579.4 372.1 L580.8 372.1 L580.8 418.0 L589.5 418.0 L589.5 371.4 L590.9 371.4 L590.9 417.0 L599.6 417.0 L599.6 370.6 L601.0 370.6 L601.0 416.1 L609.7 416.1 L609.7 369.8 L611.1 369.8 L611.1 415.4 L619.9 415.4 L619.9 369.1 L621.3 369.1 L621.3 414.7 L630.0 414.7 L630.0 368.4 L631.4 368.4 L631.4 413.9 L640.1 413.9 L640.1 367.6 L641.5 367.6 L641.5 413.2 L650.2 413.2 L650.2 366.9 L651.6 366.9 L651.6 412.3 L660.3 412.3 L660.3 366.0 L661.7 366.0 L661.7 411.3 L670.4 411.3 L670.4 365.0 L671.8 365.0 L671.8 410.2 L680.6 410.2 L680.6 364.1 L682.0 364.1 L682.0 409.2 L690.7 409.2 L690.7 363.1 L692.1 363.1 L692.1 408.2 L700.8 408.2 L700.8 362.1 L702.2 362.1 L702.2 407.3 L710.9 407.3 L710.9 361.2 L712.3 361.2 L712.3 406.5 L721.0 406.5 L721.0 360.2 L722.4 360.2 L722.4 405.8 L731.2 405.8 L731.2 359.2 L732.6 359.2 L732.6 405.0 L741.3 405.0 L741.3 358.2 L742.7 358.2 L742.7 404.3 L751.4 404.3 L751.4 357.3 L752.8 357.3 L752.8 403.6 L761.5 403.6 L761.5 356.3 L762.9 356.3 L762.9 403.0 L771.6 403.0 L771.6 355.3 L773.0 355.3 L773.0 402.3 L781.7 402.3 L781.7 354.5 L783.1 354.5 L783.1 401.7 L791.9 401.7 L791.9 354.1 L793.3 354.1 L793.3 401.1 L802.0 401.1 L802.0 353.7 L803.4 353.7 L803.4 400.8 L812.1 400.8 L812.1 353.4 L813.5 353.4 L813.5 400.4 L822.2 400.4 L822.2 352.8 L823.6 352.8 L823.6 400.0 L832.3 400.0 L832.3 351.6 L833.7 351.6 L833.7 399.7 L842.5 399.7 L842.5 350.5 L843.9 350.5 L843.9 398.8 L852.6 398.8 L852.6 349.4 L854.0 349.4 L854.0 398.0 L862.7 398.0 L862.7 348.4 L864.1 348.4 L864.1 397.2 L872.8 397.2 L872.8 348.0 L874.2 348.0 L874.2 396.3 L882.9 396.3 L882.9 347.5 L884.3 347.5 L884.3 395.5 L893.0 395.5 L893.0 347.0 L894.4 347.0 L894.4 394.7 L903.2 394.7 L903.2 346.3 L904.6 346.3 L904.6 393.8 L913.3 393.8 L913.3 345.3 L914.7 345.3 L914.7 393.0 L923.4 393.0 L923.4 344.4 L924.8 344.4 L924.8 392.2 L933.5 392.2 L933.5 343.4 L934.9 343.4 L934.9 391.3 L943.6 391.3 L943.6 342.5 L945.0 342.5 L945.0 390.5 L953.8 390.5 L953.8 341.8 L955.2 341.8 L955.2 389.6 L963.9 389.6 L963.9 341.0 L965.3 341.0 L965.3 388.9 L974.0 388.9 L974.0 340.3 L975.4 340.3 L975.4 388.2 L984.1 388.2 L984.1 339.6 L985.5 339.6 L985.5 387.5 L994.2 387.5 L994.2 339.0 L995.6 339.0 L995.6 386.8 L1004.3 386.8 L1004.3 338.5 L1005.7 338.5 L1005.7 386.1 L1014.5 386.1 L1014.5 337.9 L1015.9 337.9 L1015.9 385.4 L1024.6 385.4 L1024.6 337.2 L1026.0 337.2 L1026.0 384.7 L1034.7 384.7 L1034.7 336.3 L1036.1 336.3 L1036.1 384.1 L1044.8 384.1 L1044.8 335.5 L1046.2 335.5 L1046.2 383.4 L1054.9 383.4 L1054.9 334.7 L1056.3 334.7 L1056.3 382.8 L1065.0 382.8 L1065.0 334.0 L1066.4 334.0 L1066.4 382.1 L1075.2 382.1 L1075.2 333.5 L1076.6 333.5 L1076.6 381.4 L1085.3 381.4 L1085.3 333.1 L1086.7 333.1 L1086.7 380.8 L1095.4 380.8 L1095.4 332.6 L1096.8 332.6 L1096.8 379.8 L1105.5 379.8 L1105.5 331.9 L1106.9 331.9 L1106.9 378.8 L1115.6 378.8 L1115.6 331.0 L1117.0 331.0 L1117.0 377.8 L1125.8 377.8 L1125.8 330.2 L1127.2 330.2 L1127.2 376.9 L1135.9 376.9 L1135.9 329.3 L1137.3 329.3 L1137.3 376.0 L1146.0 376.0 L1146.0 328.6 L1147.4 328.6 L1147.4 375.3 L1156.1 375.3 L1156.1 328.1 L1157.5 328.1 L1157.5 374.7 L1166.2 374.7 L1166.2 327.5 L1167.6 327.5 L1167.6 374.0 L1176.3 374.0 L1176.3 327.0 L1177.7 327.0 L1177.7 373.4 L1186.5 373.4 L1186.5 326.3 L1187.9 326.3 L1187.9 372.8 L1196.6 372.8 L1196.6 325.5 L1198.0 325.5 L1198.0 372.1 L1206.7 372.1 L1206.7 324.7 L1208.1 324.7 L1208.1 371.5 L1216.8 371.5 L1216.8 324.0 L1218.2 324.0 L1218.2 370.9 L1226.9 370.9 L1226.9 322.9 L1228.3 322.9 L1228.3 370.3 L1237.1 370.3 L1237.1 321.8 L1238.5 321.8 L1238.5 369.6 L1247.2 369.6 L1247.2 320.7 L1248.6 320.7 L1248.6 368.8 L1257.3 368.8 L1257.3 319.5 L1258.7 319.5 L1258.7 367.9 L1267.4 367.9 L1267.4 318.8 L1268.8 318.8 L1268.8 367.0 L1277.5 367.0 L1277.5 318.1 L1278.9 318.1 L1278.9 366.0 L1287.6 366.0 L1287.6 317.5 L1289.0 317.5 L1289.0 365.1 L1297.8 365.1 L1297.8 316.8 L1299.2 316.8 L1299.2 364.2 L1307.9 364.2 L1307.9 316.2 L1309.3 316.2 L1309.3 363.3 L1318.0 363.3 L1318.0 315.5 L1319.4 315.5 L1319.4 362.4 L1328.1 362.4 L1328.1 314.9 L1329.5 314.9 L1329.5 361.5 L1338.2 361.5 L1338.2 314.2 L1339.6 314.2 L1339.6 360.6 L1348.4 360.6 L1348.4 313.6 L1349.8 313.6 L1349.8 360.2 L1358.5 360.2 L1358.5 312.8 L1359.9 312.8 L1359.9 359.8 L1368.6 359.8 L1368.6 312.1 L1370.0 312.1 L1370.0 359.4 L1378.7 359.4 L1378.7 311.9 L1380.1 311.9 L1380.1 359.1 L1388.8 359.1 L1388.8 311.7 L1390.2 311.7 L1390.2 358.7 L1398.9 358.7 L1398.9 310.8 L1400.3 310.8 L1400.3 358.2 L1409.1 358.2 L1409.1 309.8 L1410.5 309.8 L1410.5 357.6 L1419.2 357.6 L1419.2 310.0 L1420.6 310.0 L1420.6 357.1 L1429.3 357.1 L1429.3 310.3 L1430.7 310.3 L1430.7 356.5 L1439.4 356.5 L1439.4 309.1 L1440.8 309.1 L1440.8 356.0 L1449.5 356.0 L1449.5 308.0 L1450.9 308.0 L1450.9 355.1 L1459.6 355.1 L1459.6 307.0 L1461.0 307.0 L1461.0 354.3 L1469.8 354.3 L1469.8 306.1 L1471.2 306.1 L1471.2 353.4 L1479.9 353.4 L1479.9 305.6 L1481.3 305.6 L1481.3 352.6 L1490.0 352.6 L1490.0 305.2 L1491.4 305.2 L1491.4 351.7 L1500.1 351.7 L1500.1 303.6 L1501.5 303.6 L1501.5 350.8 L1510.2 350.8 L1510.2 304.5 L1511.6 304.5 L1511.6 349.9 L1520.4 349.9 L1520.4 301.8 L1521.8 301.8 L1521.8 349.4 L1530.5 349.4 L1530.5 302.3 L1531.9 302.3 L1531.9 348.9 L1540.6 348.9 L1540.6 301.8 L1542.0 301.8 L1542.0 348.4 L1550.7 348.4 L1550.7 300.3 L1552.1 300.3 L1552.1 347.9 L1560.8 347.9 L1560.8 298.8 L1562.2 298.8 L1562.2 347.4 L1570.9 347.4 L1570.9 299.0 L1572.3 299.0 L1572.3 346.9 L1581.1 346.9 L1581.1 300.8 L1582.5 300.8 L1582.5 346.4 L1591.2 346.4 L1591.2 297.0 L1592.6 297.0 L1592.6 345.9 L1601.3 345.9 L1601.3 296.8 L1602.7 296.8 L1602.7 345.2 L1611.4 345.2 L1611.4 296.8 L1612.8 296.8 L1612.8 344.4 L1621.5 344.4 L1621.5 298.8 L1622.9 298.8 L1622.9 343.7 L1631.7 343.7 L1631.7 295.4 L1633.1 295.4 L1633.1 343.0 L1641.8 343.0 L1641.8 295.8 L1643.2 295.8 L1643.2 342.3 L1651.9 342.3 L1651.9 292.8 L1653.3 292.8 L1653.3 341.6 L1662.0 341.6 L1662.0 294.8 L1663.4 294.8 L1663.4 340.9 L1672.1 340.9 L1672.1 292.8 L1673.5 292.8 L1673.5 340.2 L1682.2 340.2 L1682.2 291.2 L1683.6 291.2 L1683.6 339.5 L1692.4 339.5 L1692.4 292.8 L1693.8 292.8 L1693.8 339.2 L1702.5 339.2 L1702.5 291.2 L1703.9 291.2 L1703.9 339.9 L1712.6 339.9 L1712.6 369.2 L1714.0 369.2 L1714.0 340.6 L1722.7 340.6 L1722.7 293.8 L1724.1 293.8 L1724.1 341.2 L1732.8 341.2 L1732.8 369.2 L1734.2 369.2 L1734.2 341.9 L1743.0 341.9 L1743.0 293.8 L1744.4 293.8 L1744.4 342.6 L1753.1 342.6 L1753.1 369.2 L1754.5 369.2 L1754.5 343.3 L1763.2 343.3 L1763.2 372.0 L1764.6 372.0 L1764.6 343.9 L1773.3 343.9 L1773.3 370.7 L1774.7 370.7 L1774.7 344.6 L1783.4 344.6 L1783.4 375.7 L1784.8 375.7 L1784.8 345.5 L1793.5 345.5 L1793.5 299.5 L1794.9 299.5 L1794.9 346.6 L1803.7 346.6 L1803.7 375.2 L1805.1 375.2 L1805.1 347.7 L1813.8 347.7 L1813.8 377.0 L1815.2 377.0 L1815.2 348.8 L1823.9 348.8 L1823.9 302.0 L1825.3 302.0 L1825.3 349.9 L1834.0 349.9 L1834.0 379.5 L1835.4 379.5 L1835.4 351.0 L1844.1 351.0 L1844.1 378.7 L1845.5 378.7 L1845.5 352.1 L1854.3 352.1 L1854.3 382.0 L1855.7 382.0 L1855.7 353.3 L1864.4 353.3 L1864.4 382.8 L1865.8 382.8 L1865.8 354.4 L1874.5 354.4 L1874.5 385.2 L1875.9 385.2 L1875.9 355.5 L1884.6 355.5 L1884.6 310.2 L1886.0 310.2 L1886.0 356.7 L1894.7 356.7 L1894.7 384.3 L1896.1 384.3 L1896.1 357.9 L1904.8 357.9 L1904.8 387.8 L1906.2 387.8 L1906.2 359.2 L1915.0 359.2 L1915.0 387.8 L1916.4 387.8 L1916.4 360.4 L1925.1 360.4 L1925.1 314.3 L1926.5 314.3 L1926.5 361.7 L1935.2 361.7 L1935.2 390.5 L1936.6 390.5 L1936.6 362.9 L1945.3 362.9 L1945.3 390.5 L1946.7 390.5 L1946.7 364.2 L1955.4 364.2 L1955.4 392.2 L1956.8 392.2 L1956.8 365.4 L1965.5 365.4 L1965.5 393.9 L1967.0 393.9 L1967.0 366.5 L1975.7 366.5 L1975.7 395.7 L1977.1 395.7 L1977.1 366.5 L1985.8 366.5 L1985.8 340.5 L1987.2 340.5 L1987.2 366.6 L1996.6 366.6 L1996.6 366.6 L2006.7 366.6 L2006.7 366.6 L2016.8 366.6 L2016.8 366.6 L2027.0 366.6 L2027.0 366.6 L2037.1 366.6 L2037.1 366.7 L2047.2 366.7 L2047.2 366.7 L2057.3 366.7 L2057.3 366.7 L2067.4 366.7 L2067.4 366.7 L2077.5 366.7 L2077.5 366.8 L2086.0 366.8" stroke="#ffff00" clip-path="url(#ax)"/>
</g>
<g fill="none" stroke-width="6" stroke-linejoin="bevel" stroke-linecap="butt" shape-rendering="crispEdges">
<polyline points="1019.0,781.3 1027.4,778.4 1150.0,778.5 1160.5,905.9 1175.3,905.9 1180.5,910.0 1195.3,910.0 1202.7,792.9 1209.0,786.6 1220.6,786.6 1224.9,782.0 1232.3,787.0 1255.4,785.3 1264.4,783.0 1279.9,787.0 1292.7,783.0 1402.0,783.0 1411.0,778.5 1420.0,783.0 1430.3,778.5 1440.6,783.0 1489.2,782.2 1492.7,800.0 1499.7,911.4 1515.4,911.4 1520.6,916.6 1534.6,916.6 1543.3,920.1 1548.6,808.4 1550.3,790.9 1578.2,790.9 1590.5,787.4 1604.4,790.9 1618.4,787.4 1714.4,787.4" stroke="#000000"/>
<polyline points="1019.0,820.8 1130.9,820.8 1136.2,825.0 1141.5,820.0 1151.0,819.0 1158.0,640.0 1160.0,622.3 1179.0,622.3 1188.7,617.2 1195.0,617.2 1200.6,748.6 1203.8,809.8 1211.1,809.8 1219.6,815.0 1485.6,815.0 1490.8,820.0 1498.0,623.3 1503.2,620.0 1515.4,616.3 1529.4,616.3 1534.6,612.8 1543.3,612.8 1548.6,806.6 1555.5,810.1 1679.5,810.1 1691.7,815.4 1714.4,815.4" stroke="#0000ff"/>
<polyline points="1019.0,566.8 1150.8,566.8 1160.5,793.0 1166.8,797.0 1173.1,800.0 1180.5,806.5 1192.1,806.5 1194.3,810.0 1196.4,806.0 1203.9,585.0 1206.6,585.0 1209.4,586.0 1219.0,580.0 1235.5,579.5 1239.7,575.5 1283.7,575.7 1292.7,570.6 1297.9,575.7 1327.4,575.7 1337.7,570.6 1490.8,570.6 1497.9,794.4 1504.9,799.7 1515.4,806.6 1518.9,810.1 1545.1,810.1 1548.6,590.2 1553.8,584.9 1564.3,583.2 1573.0,580.7 1578.2,584.0 1588.7,580.0 1648.0,580.0 1653.3,576.0 1662.0,576.0 1667.3,580.0 1697.0,580.0 1704.0,576.0 1714.4,576.0" stroke="#ff0000"/>
<polyline points="1019.0,750.7 1031.7,750.7 1041.2,755.0 1057.0,755.0 1061.2,750.7 1067.6,755.0 1116.1,755.0 1121.4,750.7 1135.1,750.7 1145.7,755.0 1149.0,754.0 1161.0,635.4 1191.5,635.4 1194.2,632.0 1201.7,746.0 1209.0,745.5 1219.6,745.5 1224.9,750.7 1461.2,750.6 1470.2,755.0 1476.6,750.6 1489.2,750.5 1499.7,632.0 1532.8,632.0 1543.3,630.3 1546.8,700.0 1550.3,747.3 1559.0,750.8 1607.9,750.8 1618.4,746.5 1623.6,750.8 1714.4,750.8" stroke="#ffff00"/>
</g>
<g stroke="#262626" stroke-width="2" fill="none">
<rect x="163.0" y="12.0" width="2141.0" height="929.0"/>
<line x1="162.0" y1="12.6" x2="2305.0" y2="12.6" stroke-width="2.8"/>
<line x1="163.00" y1="941.0" x2="163.00" y2="918.0"/>
<line x1="163.00" y1="12.0" x2="163.00" y2="35.0"/>
<line x1="452.00" y1="941.0" x2="452.00" y2="918.0"/>
<line x1="452.00" y1="12.0" x2="452.00" y2="35.0"/>
<line x1="741.00" y1="941.0" x2="741.00" y2="918.0"/>
<line x1="741.00" y1="12.0" x2="741.00" y2="35.0"/>
<line x1="1030.00" y1="941.0" x2="1030.00" y2="930.0"/>
<line x1="1030.00" y1="12.0" x2="1030.00" y2="35.0"/>
<line x1="1319.00" y1="941.0" x2="1319.00" y2="930.0"/>
<line x1="1319.00" y1="12.0" x2="1319.00" y2="35.0"/>
<line x1="1608.00" y1="941.0" x2="1608.00" y2="930.0"/>
<line x1="1608.00" y1="12.0" x2="1608.00" y2="35.0"/>
<line x1="1897.00" y1="941.0" x2="1897.00" y2="918.0"/>
<line x1="1897.00" y1="12.0" x2="1897.00" y2="35.0"/>
<line x1="2186.00" y1="941.0" x2="2186.00" y2="918.0"/>
<line x1="2186.00" y1="12.0" x2="2186.00" y2="35.0"/>
<line x1="163.0" y1="857.00" x2="186.0" y2="857.00"/>
<line x1="2304.0" y1="857.00" x2="2281.0" y2="857.00"/>
<line x1="163.0" y1="733.25" x2="186.0" y2="733.25"/>
<line x1="2304.0" y1="733.25" x2="2281.0" y2="733.25"/>
<line x1="163.0" y1="609.50" x2="186.0" y2="609.50"/>
<line x1="2304.0" y1="609.50" x2="2281.0" y2="609.50"/>
<line x1="163.0" y1="485.75" x2="186.0" y2="485.75"/>
<line x1="2304.0" y1="485.75" x2="2281.0" y2="485.75"/>
<line x1="163.0" y1="362.00" x2="186.0" y2="362.00"/>
<line x1="2304.0" y1="362.00" x2="2281.0" y2="362.00"/>
<line x1="163.0" y1="238.25" x2="186.0" y2="238.25"/>
<line x1="2304.0" y1="238.25" x2="2281.0" y2="238.25"/>
<line x1="163.0" y1="114.50" x2="186.0" y2="114.50"/>
<line x1="2304.0" y1="114.50" x2="2281.0" y2="114.50"/>
</g>
<g fill="#262626" font-size="58">
<text x="163.0" y="1006" text-anchor="middle">0</text>
<text x="452.0" y="1006" text-anchor="middle">2000</text>
<text x="741.0" y="1006" text-anchor="middle">4000</text>
<text x="1030.0" y="1006" text-anchor="middle">6000</text>
<text x="1319.0" y="1006" text-anchor="middle">8000</text>
<text x="1608.0" y="1006" text-anchor="middle">10000</text>
<text x="1897.0" y="1006" text-anchor="middle">12000</text>
<text x="2186.0" y="1006" text-anchor="middle">14000</text>
<text x="147" y="876.5" text-anchor="end">2.7</text>
<text x="147" y="752.8" text-anchor="end">2.8</text>
<text x="147" y="629.0" text-anchor="end">2.9</text>
<text x="147" y="505.2" text-anchor="end">3</text>
<text x="147" y="381.5" text-anchor="end">3.1</text>
<text x="147" y="257.7" text-anchor="end">3.2</text>
<text x="147" y="134.0" text-anchor="end">3.3</text>
</g>
<text x="1234.5" y="1059.5" font-size="65.5" fill="#262626" text-anchor="middle">Time (s)</text>
<text transform="translate(56.5,476.3) rotate(-90)" font-size="65.5" fill="#262626" text-anchor="middle">Cell Voltage (V)</text>
<g fill="#000" font-size="62">
<text x="1761" y="206">Balancing</text>
<text x="1819.5" y="548">Standing</text>
<text x="1316" y="523.5" font-size="60.5">Zoon in</text>
<text x="861" y="714">Balancing</text>
<text x="1231" y="688">Standing</text>
</g>
<line x1="1929.5" y1="301.4" x2="1905.5" y2="241.2" stroke="#000" stroke-width="3.0"/><polygon points="1900.6,228.8 1916.5,242.9 1906.6,243.8 1898.8,250.0" fill="#000"/>
<line x1="1901.9" y1="377.4" x2="1913.4" y2="490.9" stroke="#000" stroke-width="3.0"/><polygon points="1914.7,504.1 1903.3,486.2 1913.1,488.0 1922.2,484.2" fill="#000"/>
<line x1="2061.6" y1="379.3" x2="1976.3" y2="485.5" stroke="#000" stroke-width="3.0"/><polygon points="1968.0,495.9 1972.5,475.1 1978.1,483.3 1987.3,487.0" fill="#000"/>
<line x1="1181.0" y1="638.9" x2="1118.4" y2="666.7" stroke="#000" stroke-width="3.0"/><polygon points="1106.2,672.1 1119.9,656.2 1121.5,665.3 1127.2,672.6" fill="#000"/>
<line x1="978.9" y1="516.8" x2="1429.7" y2="418.1" stroke="#000" stroke-width="2.8"/>
<line x1="1447.8" y1="420" x2="1767" y2="546.2" stroke="#000" stroke-width="2.8"/>
<line x1="2033" y1="623.5" x2="2136" y2="623.5" stroke="#000000" stroke-width="7.3"/>
<text x="2141" y="641.8" font-size="57" fill="#000">VB0</text>
<line x1="2033" y1="692.0" x2="2136" y2="692.0" stroke="#0000ff" stroke-width="7.3"/>
<text x="2141" y="710.3" font-size="57" fill="#000">VB1</text>
<line x1="2033" y1="760.7" x2="2136" y2="760.7" stroke="#ff0000" stroke-width="7.3"/>
<text x="2141" y="779.0" font-size="57" fill="#000">VB2</text>
<line x1="2033" y1="829.3" x2="2136" y2="829.3" stroke="#ffff00" stroke-width="7.3"/>
<text x="2141" y="847.6" font-size="57" fill="#000">VB3</text>
</svg></body></html>
